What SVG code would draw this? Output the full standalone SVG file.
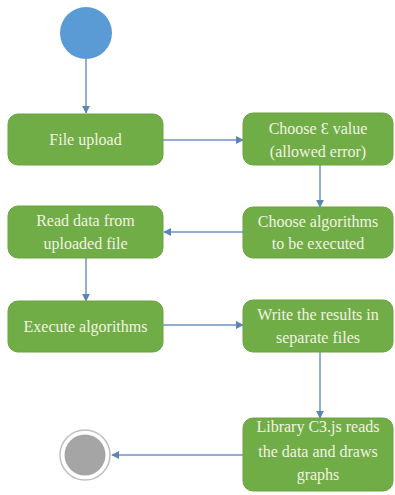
<svg xmlns="http://www.w3.org/2000/svg" width="395" height="495" viewBox="0 0 395 495">
<defs>
<style>
.box{fill:#70AD47;stroke:#6AA43F;stroke-width:1}
.t{font-size:16px;fill:#F2F2E2;text-anchor:middle}
.c{stroke:#6F93C6;stroke-width:1.5;fill:none;marker-end:url(#ah)}
</style>
<marker id="ah" viewBox="0 0 10 10" refX="9" refY="5" markerWidth="8" markerHeight="8" markerUnits="userSpaceOnUse" orient="auto">
<path d="M0,0 L10,5 L0,10 z" fill="#5B84B8"/>
</marker>
</defs>
<rect width="395" height="495" fill="#FFFFFF"/>
<g id="connectors">
<line class="c" x1="86" y1="59" x2="86" y2="113"/>
<line class="c" x1="163" y1="140" x2="243" y2="140"/>
<line class="c" x1="320" y1="165" x2="320" y2="207"/>
<line class="c" x1="243" y1="232" x2="164" y2="232"/>
<line class="c" x1="86" y1="258" x2="86" y2="301"/>
<line class="c" x1="163" y1="325" x2="243" y2="325"/>
<line class="c" x1="320" y1="352" x2="320" y2="418"/>
<line class="c" x1="243" y1="455" x2="112" y2="455"/>
</g>
<g font-family="Liberation Serif, Times New Roman, serif">
<g id="start"><circle cx="86" cy="33" r="26" fill="#5B9BD5"/></g>
<g id="file-upload"><rect class="box" x="8" y="114" width="155" height="51" rx="10"/><text class="t" x="85.5" y="145">File upload</text></g>
<g id="choose-epsilon"><rect class="box" x="243" y="113" width="150" height="52" rx="10"/><text class="t" x="318" y="134">Choose Ɛ value</text><text class="t" x="318" y="157">(allowed error)</text></g>
<g id="choose-algorithms"><rect class="box" x="243" y="207" width="150" height="51" rx="10"/><text class="t" x="318" y="227">Choose algorithms</text><text class="t" x="318" y="249">to be executed</text></g>
<g id="read-data"><rect class="box" x="8" y="206" width="155" height="52" rx="10"/><text class="t" x="85.5" y="226">Read data from</text><text class="t" x="85.5" y="249">uploaded file</text></g>
<g id="execute"><rect class="box" x="8" y="301" width="155" height="51" rx="10"/><text class="t" x="85.5" y="332">Execute algorithms</text></g>
<g id="write-results"><rect class="box" x="243" y="300" width="150" height="52" rx="10"/><text class="t" x="318" y="320">Write the results in</text><text class="t" x="318" y="343">separate files</text></g>
<g id="library"><rect class="box" x="243" y="418" width="150" height="73" rx="10"/><text class="t" x="318" y="432">Library C3.js reads</text><text class="t" x="318" y="457">the data and draws</text><text class="t" x="318" y="480">graphs</text></g>
<g id="end"><circle cx="85" cy="455" r="25" fill="#FFFFFF" stroke="#BFBFBF" stroke-width="1.5"/><circle cx="85" cy="455" r="20.5" fill="#A5A5A5"/></g>
</g>
</svg>
